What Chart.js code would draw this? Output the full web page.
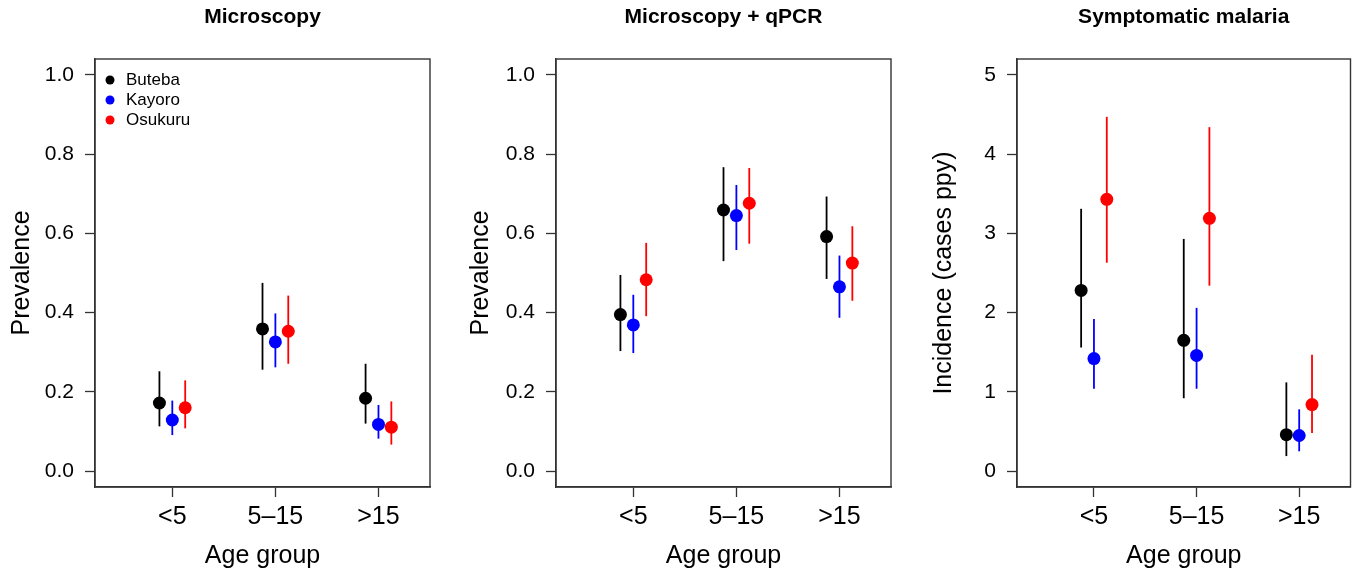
<!DOCTYPE html>
<html>
<head>
<meta charset="utf-8">
<script src="https://cdn.jsdelivr.net/npm/chart.js@4.4.0/dist/chart.umd.min.js"></script>
<style>
  body { margin: 0; background: #fff; width: 1357px; height: 571px; position: relative; overflow: hidden; }
  .panel { position: absolute; top: 0; height: 571px; }
</style>
</head>
<body>
<div class="panel" style="left:0px;width:450px"><canvas id="c1" width="450" height="571"></canvas></div>
<div class="panel" style="left:459px;width:452px"><canvas id="c2" width="452" height="571"></canvas></div>
<div class="panel" style="left:922px;width:435px"><canvas id="c3" width="435" height="571"></canvas></div>
<script>
const ageGroups = ['<5', '5\u201315', '>15'];
const sites = ['Buteba', 'Kayoro', 'Osukuru'];
const prevTicks = [0, 0.2, 0.4, 0.6, 0.8, 1.0];
const incTicks = [0, 1, 2, 3, 4, 5];

// one row per site (Buteba, Kayoro, Osukuru), one column per age group
const micEst = [[0.172, 0.359, 0.184], [0.129, 0.326, 0.118], [0.160, 0.353, 0.111]];
const micLo  = [[0.113, 0.256, 0.120], [0.091, 0.262, 0.082], [0.108, 0.271, 0.067]];
const micHi  = [[0.252, 0.475, 0.271], [0.178, 0.398, 0.167], [0.229, 0.443, 0.176]];

const pcrEst = [[0.395, 0.659, 0.592], [0.369, 0.645, 0.465], [0.483, 0.676, 0.525]];
const pcrLo  = [[0.303, 0.530, 0.485], [0.298, 0.558, 0.387], [0.391, 0.574, 0.430]];
const pcrHi  = [[0.495, 0.767, 0.693], [0.445, 0.722, 0.544], [0.576, 0.765, 0.618]];

const incEst = [[2.28, 1.65, 0.46], [1.42, 1.46, 0.45], [3.43, 3.19, 0.84]];
const incLo  = [[1.56, 0.92, 0.19], [1.04, 1.04, 0.25], [2.63, 2.34, 0.48]];
const incHi  = [[3.31, 2.93, 1.12], [1.92, 2.06, 0.78], [4.47, 4.34, 1.47]];

const colors = ['#000000', '#0000ff', '#ff0000'];
const offsets = [-0.125, 0, 0.125];
const axisColor = '#333';

Chart.defaults.font.family = '"Liberation Sans", Arial, Helvetica, sans-serif';
Chart.defaults.color = '#000';

const errorBars = {
    id: 'errorBars',
    beforeDatasetsDraw(chart) {
        const ctx = chart.ctx, xs = chart.scales.x, ys = chart.scales.y;
        ctx.save();
        chart.data.datasets.forEach(ds => {
            ctx.strokeStyle = ds.backgroundColor;
            ctx.lineWidth = 1.8;
            ds.data.forEach((p, j) => {
                const x = xs.getPixelForValue(p.x);
                ctx.beginPath();
                ctx.moveTo(x, ys.getPixelForValue(ds.lo[j]));
                ctx.lineTo(x, ys.getPixelForValue(ds.hi[j]));
                ctx.stroke();
            });
        });
        ctx.restore();
    }
};

const boxPlugin = {
    id: 'boxPlugin',
    afterDraw(chart) {
        const a = chart.chartArea, ctx = chart.ctx;
        ctx.save();
        ctx.strokeStyle = axisColor;
        ctx.lineWidth = 1.4;
        ctx.strokeRect(a.left, a.top, a.right - a.left, a.bottom - a.top);
        ctx.restore();
    }
};

const sideLegend = {
    id: 'sideLegend',
    afterDraw(chart, args, opts) {
        if (!opts.show) return;
        const a = chart.chartArea, ctx = chart.ctx;
        ctx.save();
        ctx.font = '17px "Liberation Sans", Arial, sans-serif';
        ctx.textBaseline = 'middle';
        chart.data.datasets.forEach((ds, i) => {
            const y = a.top + 21 + i * 20;
            ctx.fillStyle = ds.backgroundColor;
            ctx.beginPath();
            ctx.arc(a.left + 15, y, 4.5, 0, Math.PI * 2);
            ctx.fill();
            ctx.fillStyle = '#000';
            ctx.fillText(ds.label, a.left + 31, y);
        });
        ctx.restore();
    }
};

function makePanel(id, title, yTitle, yMin, yMax, yTicks, fmt, est, lo, hi, axisW, rightPad, showLegend) {
    const datasets = sites.map((s, i) => ({
        label: s,
        data: est[i].map((v, j) => ({ x: j + 1 + offsets[i], y: v })),
        lo: lo[i],
        hi: hi[i],
        backgroundColor: colors[i],
        borderColor: colors[i],
        pointRadius: 6.5,
        pointBorderWidth: 0,
        showLine: false
    }));
    const ctx = document.getElementById(id).getContext('2d');
    return new Chart(ctx, {
        type: 'scatter',
        data: { datasets: datasets },
        options: {
            responsive: false,
            devicePixelRatio: 1,
            animation: false,
            layout: { padding: { left: 0, right: rightPad, top: 0, bottom: 0 } },
            plugins: {
                legend: { display: false },
                tooltip: { enabled: false },
                title: {
                    display: true,
                    text: title,
                    fullSize: false,
                    font: { size: 21, weight: 'bold' },
                    color: '#000',
                    padding: { top: 5, bottom: 28.8 }
                },
                sideLegend: { show: showLegend }
            },
            scales: {
                x: {
                    type: 'linear',
                    min: 0.25,
                    max: 3.5,
                    afterBuildTicks: s => { s.ticks = ageGroups.map((g, i) => ({ value: i + 1 })); },
                    afterFit: s => { s.height = 84; },
                    ticks: {
                        callback: (v, i) => ageGroups[i],
                        font: { size: 25 },
                        color: '#000',
                        padding: 5,
                        autoSkip: false,
                        maxRotation: 0
                    },
                    grid: { drawOnChartArea: false, drawTicks: true, tickLength: 10, tickColor: axisColor, tickWidth: 1.3 },
                    border: { display: true, color: axisColor, width: 1.4 },
                    title: { display: true, text: 'Age group', font: { size: 25 }, color: '#000', padding: { top: 0, bottom: 0 } }
                },
                y: {
                    min: yMin,
                    max: yMax,
                    afterBuildTicks: s => { s.ticks = yTicks.map(v => ({ value: v })); },
                    afterFit: s => { s.width = axisW; },
                    ticks: {
                        callback: v => fmt(v),
                        font: { size: 21 },
                        color: '#000',
                        padding: 11
                    },
                    grid: { drawOnChartArea: false, drawTicks: true, tickLength: 10, tickColor: axisColor, tickWidth: 1.3 },
                    border: { display: true, color: axisColor, width: 1.4 },
                    title: { display: true, text: yTitle, font: { size: 25 }, color: '#000', padding: { top: 7, bottom: 0 } }
                }
            }
        },
        plugins: [errorBars, boxPlugin, sideLegend]
    });
}

const fmt1 = v => v.toFixed(1);
const fmt0 = v => v.toFixed(0);

makePanel('c1', 'Microscopy', 'Prevalence', -0.04, 1.04, prevTicks, fmt1, micEst, micLo, micHi, 95, 20, true);
makePanel('c2', 'Microscopy + qPCR', 'Prevalence', -0.04, 1.04, prevTicks, fmt1, pcrEst, pcrLo, pcrHi, 97, 20, false);
makePanel('c3', 'Symptomatic malaria', 'Incidence (cases ppy)', -0.2, 5.2, incTicks, fmt0, incEst, incLo, incHi, 95, 6, false);
</script>
</body>
</html>
